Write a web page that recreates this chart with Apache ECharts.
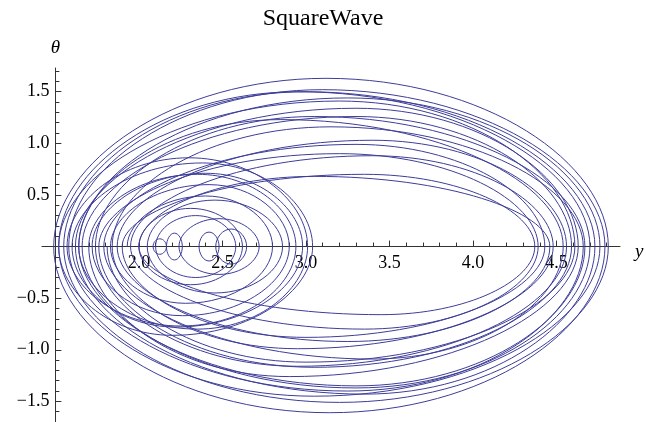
<!DOCTYPE html>
<html>
<head>
<meta charset="utf-8">
<script src="https://cdn.jsdelivr.net/npm/echarts@6/dist/echarts.min.js"></script>
<style>
  html, body { margin: 0; padding: 0; background: #fff; }
  #chart { width: 646px; height: 422px; }
</style>
</head>
<body>
<div id="chart"></div>
<script>
// long orbit: successive crossings of θ = 0 (y values), the extreme θ reached between
// each pair and the y where that extreme sits
const orbitCross = [1.93, 2.80, 1.83, 2.90, 1.72, 2.98, 1.60, 3.04, 1.52, 4.70, 1.66, 4.59, 1.76, 4.39,
  1.95, 4.48, 1.84, 4.66, 1.58, 4.79, 1.49, 4.81, 1.55, 4.73, 1.62, 4.63, 1.70, 2.94, 1.57, 3.01,
  1.64, 4.54, 1.79, 4.43, 1.90, 4.37, 2.00, 4.46, 1.87, 4.56, 1.74, 4.67, 1.64, 4.76, 1.52, 4.61, 1.81]
const orbitPeak = [0.49, -0.55, 0.60, -0.67, 0.71, -0.78, 0.81, -0.86, 1.50, -1.37, 1.26, -1.17, 0.90, -0.80,
  0.88, -0.99, 1.16, -1.40, 1.52, -1.61, 1.63, -1.51, 1.50, -1.43, 1.34, -1.26, 0.70, -0.77, 0.86, -0.80,
  1.23, -1.09, 0.99, -0.88, 0.70, -0.66, 0.68, -0.92, 1.03, -1.16, 1.26, -1.35, 1.44, -1.45, 1.41, -1.12]
const orbitPeakAt = [2.40, 2.28, 2.42, 2.26, 2.40, 2.22, 2.38, 2.20, 2.95, 3.30, 3.30, 3.05, 3.20, 3.35,
  3.40, 2.95, 3.15, 3.25, 3.10, 3.14, 3.12, 3.20, 3.00, 3.35, 3.30, 2.90, 2.35, 2.25, 2.30, 2.35,
  2.85, 3.40, 3.30, 3.00, 3.35, 3.45, 3.05, 3.25, 3.40, 2.95, 3.05, 3.30, 3.25, 3.05, 3.20, 3.00]
// small closed orbits around the lower centre
const loopLeft = [2.085, 2.165, 2.36, 2.46, 2.10, 2.00, 2.24, 2.05]
const loopRight = [2.165, 2.26, 2.48, 2.645, 2.58, 2.62, 2.72, 2.86]
const loopPeak = [0.075, 0.13, 0.14, 0.17, 0.30, 0.37, 0.27, 0.45]
// tick labels
const xTicks = [2.0, 2.5, 3.0, 3.5, 4.0, 4.5]
const yTicks = [-1.5, -1.0, -0.5, 0.5, 1.0, 1.5]

const FONT = 'Liberation Serif'
const LINE = '#3d3d99'
const AXIS = '#333'

// every half orbit is [from y, to y, extreme θ, y of the extreme]
let arcs = []
for (let i = 0; i < orbitPeak.length; i++) {
  arcs.push([orbitCross[i], orbitCross[i + 1], orbitPeak[i], orbitPeakAt[i]])
}
for (let i = 0; i < loopLeft.length; i++) {
  let mid = (loopLeft[i] + loopRight[i]) / 2
  arcs.push([loopLeft[i], loopRight[i], loopPeak[i], mid])
  arcs.push([loopRight[i], loopLeft[i], -loopPeak[i], mid])
}

// minor ticks every 0.1 between the labelled ones
function minorTicks (from, to) {
  let out = []
  for (let k = Math.ceil(from * 10); k <= Math.floor(to * 10); k++) {
    if (k % 5 !== 0) out.push(k / 10)
  }
  return out
}

function fmt (v) {
  return (v < 0 ? '\u2212' : '') + Math.abs(v).toFixed(1)
}

const xMin = 1.42
const xMax = 4.88
const yMin = -1.70
const yMax = 1.73
const gridTop = 68
const gridH = 422 - gridTop
// x axis sits on θ = 0
const zeroShift = -(gridH * (0 - yMin) / (yMax - yMin))

let option = {
  animation: false,
  title: {
    text: 'SquareWave',
    left: 'center',
    top: 2,
    textStyle: { fontFamily: FONT, fontWeight: 'normal', fontSize: 24, color: '#000' }
  },
  grid: { left: 42, right: 26, top: gridTop, bottom: 0, containLabel: false, outerBoundsMode: 'none' },
  xAxis: [
    {
      type: 'value',
      min: xMin,
      max: xMax,
      position: 'bottom',
      offset: zeroShift,
      name: 'y',
      nameLocation: 'end',
      nameGap: 15,
      nameTextStyle: { fontFamily: FONT, fontStyle: 'italic', fontSize: 19, color: '#000', verticalAlign: 'top', padding: [-4, 0, 0, 0] },
      axisLine: { onZero: false, lineStyle: { color: AXIS, width: 1 } },
      axisTick: { inside: true, length: 6, customValues: xTicks, lineStyle: { color: AXIS } },
      axisLabel: { customValues: xTicks, formatter: fmt, margin: 8, fontFamily: FONT, fontSize: 18, color: '#000' },
      splitLine: { show: false }
    },
    {
      type: 'value',
      min: xMin,
      max: xMax,
      position: 'bottom',
      offset: zeroShift,
      axisLine: { show: false, onZero: false },
      axisTick: { inside: true, length: 4, customValues: minorTicks(1.5, 4.85), lineStyle: { color: AXIS } },
      axisLabel: { show: false },
      splitLine: { show: false }
    }
  ],
  yAxis: [
    {
      type: 'value',
      min: yMin,
      max: yMax,
      position: 'left',
      offset: -13.4,
      name: '\u03b8',
      nameLocation: 'end',
      nameGap: 11,
      nameTextStyle: { fontFamily: FONT, fontStyle: 'italic', fontSize: 19, color: '#000' },
      axisLine: { onZero: false, lineStyle: { color: AXIS, width: 1 } },
      axisTick: { inside: true, length: 6, customValues: yTicks, lineStyle: { color: AXIS } },
      axisLabel: { customValues: yTicks, formatter: fmt, margin: 6, fontFamily: FONT, fontSize: 18, color: '#000' },
      splitLine: { show: false }
    },
    {
      type: 'value',
      min: yMin,
      max: yMax,
      position: 'left',
      offset: -13.4,
      axisLine: { show: false, onZero: false },
      axisTick: { inside: true, length: 4, customValues: minorTicks(-1.7, 1.7), lineStyle: { color: AXIS } },
      axisLabel: { show: false },
      splitLine: { show: false }
    }
  ],
  series: [
    {
      type: 'custom',
      xAxisIndex: 0,
      yAxisIndex: 0,
      silent: true,
      data: arcs,
      encode: { x: [0, 1], y: 2 },
      renderItem: function (params, api) {
        const p0 = api.coord([api.value(0), 0])
        const p1 = api.coord([api.value(1), 0])
        const pm = api.coord([api.value(3), api.value(2)])
        // half orbit from p0 up (or down) to pm and back to the axis at p1
        const kEnd = 0.5
        const kTop = 0.56
        const y0 = p0[1]
        const ym = pm[1]
        const cy = y0 + (ym - y0) * kEnd
        const d = 'M' + p0[0] + ' ' + y0 +
          'C' + p0[0] + ' ' + cy + ' ' + (pm[0] - kTop * (pm[0] - p0[0])) + ' ' + ym + ' ' + pm[0] + ' ' + ym +
          'C' + (pm[0] + kTop * (p1[0] - pm[0])) + ' ' + ym + ' ' + p1[0] + ' ' + cy + ' ' + p1[0] + ' ' + y0
        return {
          type: 'path',
          shape: { pathData: d },
          style: { fill: 'none', stroke: LINE, lineWidth: 1 }
        }
      }
    }
  ]
}

echarts.init(document.getElementById('chart')).setOption(option)
</script>
</body>
</html>
